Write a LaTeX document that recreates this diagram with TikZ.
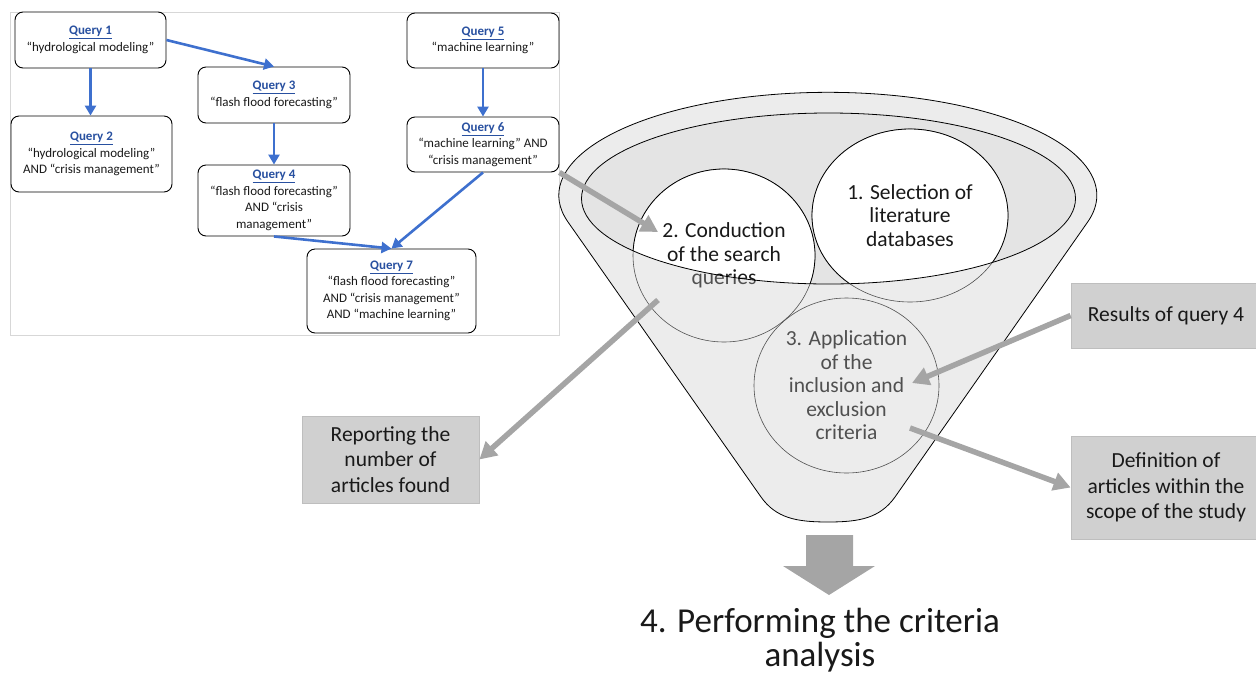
\documentclass[tikz,border=0pt]{standalone}
\usepackage{fontspec}
\setmainfont{Carlito}
\usetikzlibrary{arrows.meta,shapes.geometric}
\definecolor{arrowblue}{RGB}{62,112,206}
\definecolor{titleblue}{RGB}{40,80,160}
\definecolor{funnelgray}{RGB}{236,236,236}
\definecolor{innergray}{RGB}{228,228,228}
\definecolor{textgray}{RGB}{80,80,80}
\definecolor{boxgray}{RGB}{208,208,208}
\definecolor{boxborder}{RGB}{190,190,190}
\definecolor{arrowgray}{RGB}{165,165,165}
\definecolor{panelgray}{RGB}{215,215,215}
\definecolor{darktext}{RGB}{25,25,25}
\newcommand{\qtitle}[1]{{\bfseries\color{titleblue}\underline{#1}}}
\begin{document}
\begin{tikzpicture}[x=1pt,y=-1pt,
  qbox/.style={draw=black, line width=0.9pt, rounded corners=8pt, fill=white, align=center, inner sep=0pt, font=\fontsize{13}{16.5}\selectfont, text=darktext},
  barrow/.style={draw=arrowblue, line width=2.6pt, -{Triangle[length=10pt,width=11pt]}},
  garrow/.style={draw=arrowgray, line width=5.5pt, -{Triangle[length=17pt,width=18pt]}},
  gbox/.style={fill=boxgray, draw=boxborder, line width=0.8pt, align=center, inner sep=0pt, font=\fontsize{21.5}{25.5}\selectfont, text=darktext},
  ell/.style={ellipse, inner sep=0pt, align=center, font=\fontsize{21.5}{23.5}\selectfont},
]
\useasboundingbox (0,0) rectangle (1256,673);

% panel
\draw[panelgray, line width=0.8pt] (10,12) rectangle (559,335);

% query boxes
\node[qbox, minimum width=151pt, minimum height=56pt] (Q1) at (90.5,40) {\qtitle{Query 1}\\“hydrological modeling”};
\node[qbox, minimum width=161pt, minimum height=76pt] (Q2) at (91.5,154) {\qtitle{Query 2}\\“hydrological modeling”\\AND “crisis management”};
\node[qbox, minimum width=152pt, minimum height=56pt] (Q3) at (274,95) {\qtitle{Query 3}\\“flash flood forecasting”};
\node[qbox, minimum width=152pt, minimum height=71pt] (Q4) at (274,200.5) {\qtitle{Query 4}\\“flash flood forecasting”\\AND “crisis\\management”};
\node[qbox, minimum width=152pt, minimum height=55pt] (Q5) at (483,40.5) {\qtitle{Query 5}\\“machine learning”};
\node[qbox, minimum width=152pt, minimum height=55pt] (Q6) at (483,144.5) {\qtitle{Query 6}\\“machine learning” AND\\“crisis management”};
\node[qbox, minimum width=169pt, minimum height=84pt] (Q7) at (391.5,291) {\qtitle{Query 7}\\“flash flood forecasting”\\AND “crisis management”\\AND “machine learning”};

% blue connectors
\draw[barrow] (Q1.east) -- (Q3.north);
\draw[barrow] (Q1.south) -- (Q1.south |- Q2.north);
\draw[barrow] (Q3.south) -- (Q4.north);
\draw[barrow] (Q5.south) -- (Q6.north);
\draw[barrow] (Q4.south) -- (Q7.north);
\draw[barrow] (Q6.south) -- (Q7.north);

% funnel body
\path[fill=funnelgray, draw=black, line width=0.8pt]
  (568,222) arc[start angle=165, end angle=375, x radius=269, y radius=103]
  -- (895,497) .. controls (880,518) and (860,522) .. (828,522)
  .. controls (796,522) and (776,518) .. (761,497) -- cycle;
\fill[innergray] (828.5,198.5) ellipse[x radius=247, y radius=85.5];

% circles (grey parts)
\node[ell, draw=textgray, line width=0.6pt, text=textgray, minimum width=185pt, minimum height=175pt] (c3) at (846.5,385.5) {3. Application\\of the\\inclusion and\\exclusion\\criteria};
\node[ell, draw=textgray, line width=0.6pt, text=textgray, minimum width=182pt, minimum height=173pt] (c2) at (724,255.5) {2. Conduction\\of the search\\queries};
\node[ell, draw=textgray, line width=0.6pt, text=textgray, minimum width=196pt, minimum height=173pt] (c1) at (910,215.5) {1. Selection of\\literature\\databases};

% circles (inside opening)
\begin{scope}
  \clip (828.5,198.5) ellipse[x radius=247, y radius=85.5];
  \node[ell, fill=white, draw=black, line width=0.8pt, text=darktext, minimum width=182pt, minimum height=173pt] (c2b) at (724,255.5) {2. Conduction\\of the search\\queries};
  \node[ell, fill=white, draw=black, line width=0.8pt, text=darktext, minimum width=196pt, minimum height=173pt] (c1b) at (910,215.5) {1. Selection of\\literature\\databases};
\end{scope}
\draw[black, line width=0.8pt] (828.5,198.5) ellipse[x radius=247, y radius=85.5];

% grey boxes
\node[gbox, minimum width=177pt, minimum height=87pt] (rep) at (390.5,459.5) {Reporting the\\number of\\articles found};
\node[gbox, minimum width=190pt, minimum height=65pt] (res) at (1166,315.5) {Results of query 4};
\node[gbox, minimum width=190pt, minimum height=103pt] (def) at (1166,487.5) {Definition of\\articles within the\\scope of the study};

% grey arrows
\coordinate (c2in) at (658,232);
\coordinate (c2out) at (658,300);
\coordinate (c3in) at (912,383);
\coordinate (c3out) at (910,428);
\draw[garrow] (Q6.south east) -- (c2in);
\draw[garrow] (c2out) -- (rep.east);
\draw[garrow] (res.west) -- (c3in);
\draw[garrow] (c3out) -- (def.west);

% block arrow
\fill[arrowgray] (806,535) -- (853,535) -- (853,566) -- (875,566) -- (829,595) -- (783,566) -- (806,566) -- cycle;

% title
\node[font=\fontsize{35}{34}\selectfont, text=darktext, align=center] (title) at (820,640) {4. Performing the criteria\\analysis};
\end{tikzpicture}
\end{document}
